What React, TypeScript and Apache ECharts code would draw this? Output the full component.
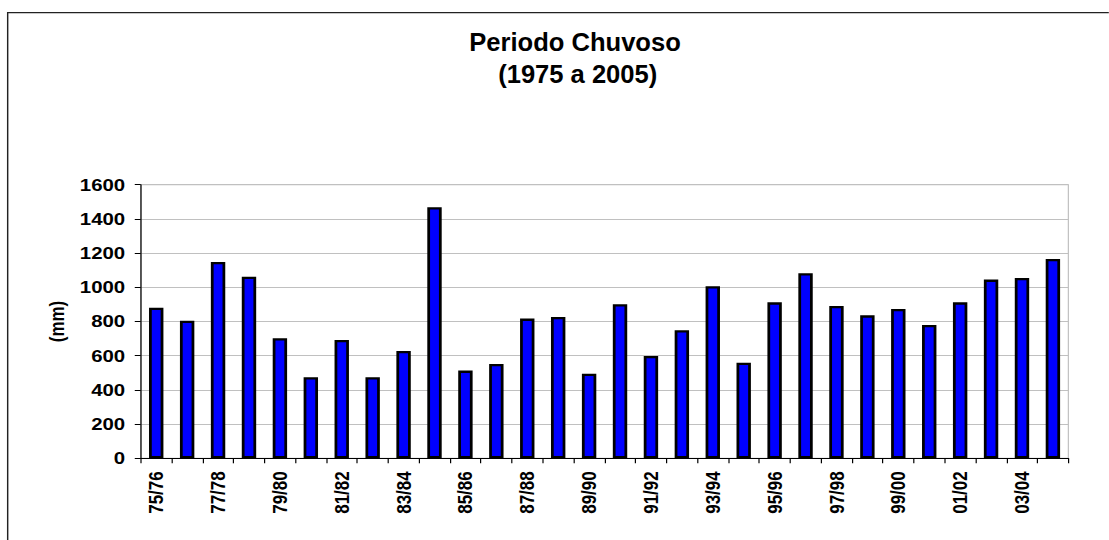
import React, { useEffect, useRef } from "react";
import * as echarts from "echarts";

const categories: string[] = [
  "75/76", "76/77", "77/78", "78/79", "79/80", "80/81", "81/82", "82/83", "83/84", "84/85",
  "85/86", "86/87", "87/88", "88/89", "89/90", "90/91", "91/92", "92/93", "93/94", "94/95",
  "95/96", "96/97", "97/98", "98/99", "99/00", "00/01", "01/02", "02/03", "03/04", "04/05",
];

const rainfall: number[] = [
  880, 805, 1148, 1062, 702, 474, 692, 474, 628, 1468,
  513, 552, 817, 826, 495, 901, 598, 749, 1006, 559,
  912, 1082, 891, 836, 873, 780, 912, 1045, 1055, 1166,
];

const yTicks: number[] = [0, 200, 400, 600, 800, 1000, 1200, 1400, 1600];

const titleLines: string[] = ["Periodo Chuvoso", "(1975 a 2005)"];
const yAxisName = "(mm)";

const STRETCH = 1.2;
const W = 1109;
const H = 540;

export default function App() {
  const ref = useRef<HTMLDivElement>(null);

  useEffect(() => {
    if (!ref.current) return;
    const chart = echarts.init(ref.current, undefined, { renderer: "svg" });
    const font = "Arial, 'Liberation Sans', sans-serif";
    const titleStyle = {
      align: "center",
      verticalAlign: "middle",
      textAlign: "center",
      textVerticalAlign: "middle",
      fontSize: 21.3,
      fontWeight: "bold",
      fontFamily: font,
      fill: "#000000",
    };
    chart.setOption({
      animation: false,
      backgroundColor: "#ffffff",
      graphic: [
        {
          type: "rect",
          z: -10,
          shape: { x: 6.4, y: 12.7, width: 2000, height: 1000 },
          style: { fill: "none", stroke: "#222222", lineWidth: 1.2 },
        },
        {
          type: "text",
          x: 479.2,
          y: 42,
          scaleY: 1.25,
          style: { ...titleStyle, text: titleLines[0] },
        },
        {
          type: "text",
          x: 481.4,
          y: 73.5,
          scaleY: 1.25,
          style: { ...titleStyle, text: titleLines[1] },
        },
      ],
      grid: {
        left: 117.3,
        width: 773,
        top: 184.7,
        height: 273.6,
        show: true,
        borderColor: "#c0c0c0",
        borderWidth: 1,
        backgroundColor: "transparent",
      },
      xAxis: {
        type: "category",
        data: categories,
        boundaryGap: true,
        axisLine: { lineStyle: { color: "#000000", width: 1 } },
        axisTick: {
          show: true,
          interval: 0,
          alignWithLabel: false,
          length: 5,
          lineStyle: { color: "#000000", width: 1 },
        },
        axisLabel: {
          interval: 1,
          rotate: 90,
          margin: 13,
          fontSize: 17,
          fontWeight: "bold",
          fontFamily: font,
          color: "#000000",
        },
        splitLine: { show: false },
      },
      yAxis: {
        type: "value",
        min: yTicks[0],
        max: yTicks[yTicks.length - 1],
        interval: yTicks[1] - yTicks[0],
        name: yAxisName,
        nameLocation: "middle",
        nameRotate: 90,
        nameGap: 53.5,
        nameTextStyle: {
          fontSize: 17,
          fontWeight: "bold",
          fontFamily: font,
          color: "#000000",
        },
        axisLine: { show: true, lineStyle: { color: "#000000", width: 1 } },
        axisTick: { show: true, length: 5, lineStyle: { color: "#000000", width: 1 } },
        axisLabel: {
          margin: 13,
          fontSize: 17,
          fontWeight: "bold",
          fontFamily: font,
          color: "#000000",
          formatter: (v: number) => String(v),
        },
        splitLine: { show: true, lineStyle: { color: "#c0c0c0", width: 1 } },
      },
      series: [
        {
          type: "bar",
          data: rainfall,
          barWidth: 12,
          itemStyle: {
            color: "#0000ff",
            borderColor: "#000000",
            borderWidth: 2.3,
          },
        },
      ],
    });
    return () => {
      chart.dispose();
    };
  }, []);

  return (
    <div
      style={{
        position: "fixed",
        left: 0,
        top: 0,
        width: W,
        height: H,
        overflow: "hidden",
        background: "#ffffff",
      }}
    >
      <div
        ref={ref}
        style={{
          width: W / STRETCH,
          height: H,
          transform: `scaleX(${STRETCH})`,
          transformOrigin: "0 0",
        }}
      />
    </div>
  );
}
